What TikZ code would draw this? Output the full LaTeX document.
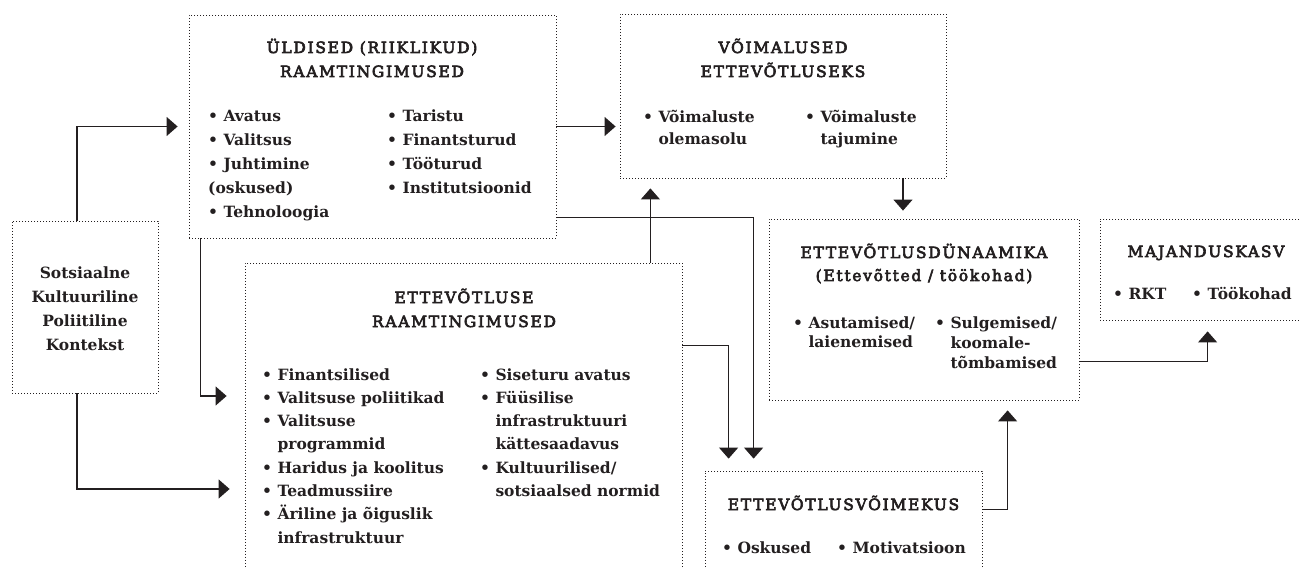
\documentclass[tikz,border=0pt]{standalone}
\usepackage{fontspec}
\setmainfont{DejaVu Serif}
\newfontfamily\hdrfont{DejaVu Serif}[LetterSpace=11, FakeBold=4]
\usetikzlibrary{arrows.meta}
\definecolor{ink}{RGB}{35,31,32}
\newcommand{\bul}{•\ }
\newcommand{\ind}{\phantom{•\ }}
\tikzset{
  box/.style={draw=ink, line width=0.8pt, dash pattern=on 0.8pt off 2.2pt, inner sep=0pt},
  items/.style={anchor=base west, align=left, inner sep=0pt, text=ink,
    font=\fontsize{15.5}{#1}\selectfont\bfseries},
  items/.default=24,
  hdr/.style={anchor=base, align=center, inner sep=0pt, text=ink,
    font=\hdrfont\fontsize{15.5}{#1}\selectfont},
  hdr/.default=24,
  arr/.style={-{Triangle[width=19pt,length=11pt]}, line width=1.1pt, draw=ink}
}
\begin{document}
\begin{tikzpicture}[x=1pt,y=-1pt]
\useasboundingbox (0,0) rectangle (1301,569);
\clip (0,0) rectangle (1301,569);
% boxes
\node[box, minimum width=367pt, minimum height=223pt] (udl) at (372.5,126.5) {};
\node[box, minimum width=326pt, minimum height=164pt] (voi) at (783,96) {};
\node[box, minimum width=146pt, minimum height=172pt] (soc) at (85,307) {};
\node[box, minimum width=437pt, minimum height=320pt] (etr) at (463.5,423) {};
\node[box, minimum width=310pt, minimum height=181pt] (dyn) at (924,309.5) {};
\node[box, minimum width=220pt, minimum height=101pt] (maj) at (1210,269.5) {};
\node[box, minimum width=277pt, minimum height=110pt] (vmk) at (843.5,526) {};
% headers (anchor = baseline of last line)
\node[hdr] (udlh) at (372,77) {ÜLDISED (RIIKLIKUD)\\RAAMTINGIMUSED};
\node[hdr] (voih) at (783,77) {VÕIMALUSED\\ETTEVÕTLUSEKS};
\node[hdr] (etrh) at (464,327) {ETTEVÕTLUSE\\RAAMTINGIMUSED};
\node[hdr=23] (dynh) at (924,281) {ETTEVÕTLUSDÜNAAMIKA\\(Ettevõtted / töökohad)};
\node[hdr] (vmkh) at (843.5,510) {ETTEVÕTLUSVÕIMEKUS};
\node[hdr] (majh) at (1206,257) {MAJANDUSKASV};
% context
\node[anchor=base, align=center, inner sep=0pt, text=ink, font=\fontsize{15.5}{24}\selectfont\bfseries]
  (soct) at (85,350) {Sotsiaalne\\Kultuuriline\\Poliitiline\\Kontekst};
% items (anchor = baseline of last line)
\node[items] (udl1) at (208,218) {\bul Avatus\\\bul Valitsus\\\bul Juhtimine\\(oskused)\\\bul Tehnoloogia};
\node[items] (udl2) at (387,194) {\bul Taristu\\\bul Finantsturud\\\bul Tööturud\\\bul Institutsioonid};
\node[items=22] (voi1) at (643,145) {\bul Võimaluste\\\ind olemasolu};
\node[items=22] (voi2) at (805,145) {\bul Võimaluste\\\ind tajumine};
\node[items=23.3] (etr1) at (262,543.1) {\bul Finantsilised\\\bul Valitsuse poliitikad\\\bul Valitsuse\\\ind programmid\\\bul Haridus ja koolitus\\\bul Teadmussiire\\\bul Äriline ja õiguslik\\\ind infrastruktuur};
\node[items=23.3] (etr2) at (480,496.5) {\bul Siseturu avatus\\\bul Füüsilise\\\ind infrastruktuuri\\\ind kättesaadavus\\\bul Kultuurilised/\\\ind sotsiaalsed normid};
\node[items=20] (dyn1) at (793,348) {\bul Asutamised/\\\ind laienemised};
\node[items=20] (dyn2) at (935,368) {\bul Sulgemised/\\\ind koomale-\\\ind tõmbamised};
\node[items] (vmk1) at (722,553) {\bul Oskused};
\node[items] (vmk2) at (837,553) {\bul Motivatsioon};
\node[items] (maj1) at (1113,300) {\bul RKT};
\node[items] (maj2) at (1192,300) {\bul Töökohad};
% connector end points
\coordinate (s1) at ([xshift=-8pt]soc.north);
\coordinate (s2) at ([xshift=-8pt]soc.south);
\coordinate (u3) at ([xshift=12pt]udl.south west);
\coordinate (e5) at ([xshift=-32pt]etr.north east);
\coordinate (u6) at ([yshift=21pt]udl.south east);
\coordinate (e7) at ([yshift=-83pt]etr.north east);
\coordinate (v8) at ([xshift=120pt]voi.south);
\coordinate (d9) at ([yshift=39pt]dyn.south east);
\coordinate (k10) at ([yshift=-39pt]vmk.north east);
% connectors
\draw[arr] (s1) |- ([xshift=-11pt]udl.west);
\draw[arr] (s2) |- ([xshift=-15pt,yshift=-66pt]etr.west);
\draw[arr] (u3) |- ([xshift=-18pt,yshift=27pt]etr.west);
\draw[arr, shorten >=4pt] (udl.east) -- (udl.east -| voi.west);
\draw[arr, shorten >=10pt] (e5) -- (e5 |- voi.south);
\draw[arr, shorten >=12pt] (u6) -| ([xshift=49pt]vmk.north west);
\draw[arr, shorten >=12pt] (e7) -| ([xshift=24pt]vmk.north west);
\draw[arr, shorten >=8pt] (v8) -- (v8 |- dyn.north);
\draw[arr, shorten >=11pt] (d9) -| ([xshift=108pt]maj.south west);
\draw[arr, shorten >=10pt] (k10) -| ([xshift=239pt]dyn.south west);
\end{tikzpicture}
\end{document}
